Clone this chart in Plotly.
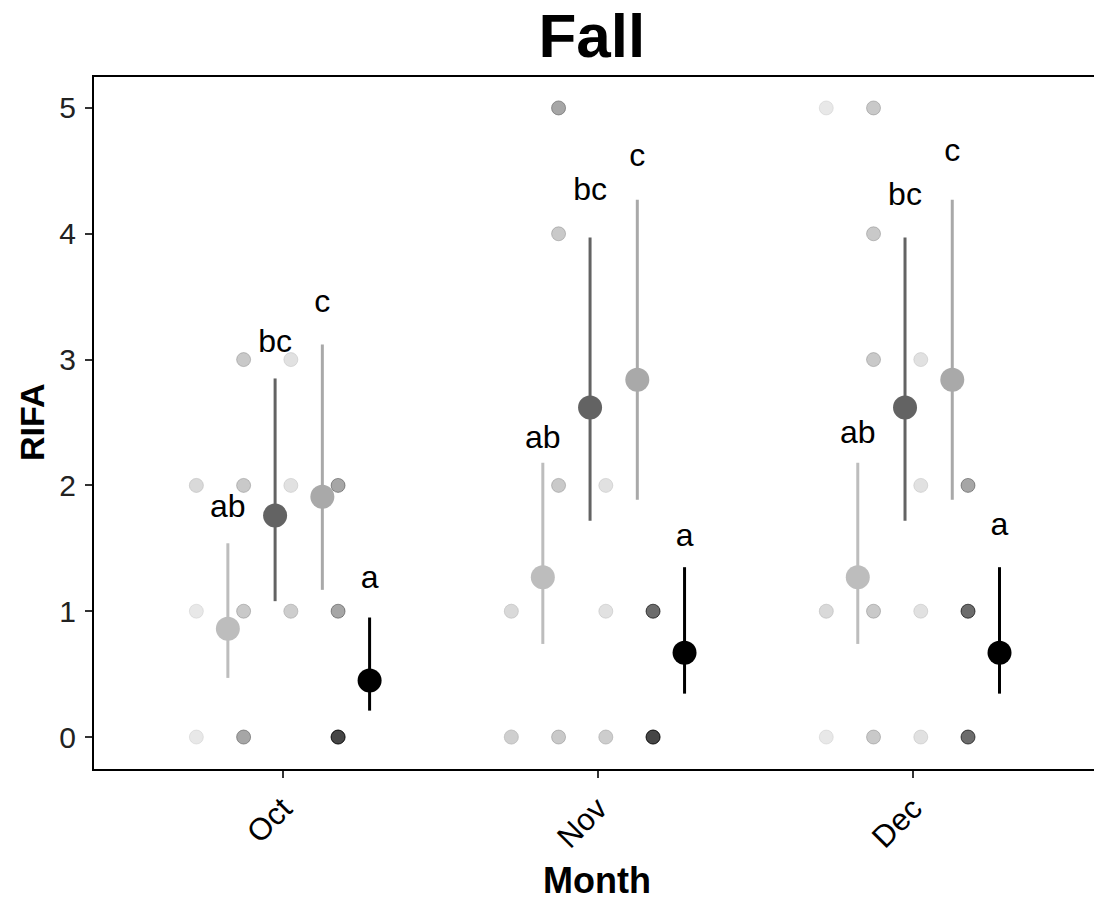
import plotly.graph_objects as go

# ---------------- data ----------------
months = ["Oct", "Nov", "Dec"]
groups = ["Group 1", "Group 2", "Group 3", "Group 4"]
group_colors = ["#bdbdbd", "#636363", "#a9a9a9", "#000000"]
letters = ["ab", "bc", "c", "a"]

# estimated means and 95% CI per group, per month (Oct, Nov, Dec)
mean_g1 = [0.86, 1.27, 1.27]
low_g1 = [0.47, 0.74, 0.74]
high_g1 = [1.54, 2.18, 2.18]

mean_g2 = [1.76, 2.62, 2.62]
low_g2 = [1.08, 1.72, 1.72]
high_g2 = [2.85, 3.97, 3.97]

mean_g3 = [1.91, 2.84, 2.84]
low_g3 = [1.17, 1.885, 1.885]
high_g3 = [3.12, 4.27, 4.27]

mean_g4 = [0.45, 0.67, 0.67]
low_g4 = [0.21, 0.345, 0.345]
high_g4 = [0.95, 1.35, 1.35]

# height of the letter labels per group, per month
label_y_g1 = [1.81, 2.36, 2.40]
label_y_g2 = [3.12, 4.33, 4.29]
label_y_g3 = [3.44, 4.60, 4.64]
label_y_g4 = [1.25, 1.585, 1.67]

# raw observations: values and how many times each occurs, per month
raw_g1_vals = [[2, 1, 0], [1, 0], [5, 1, 0]]
raw_g1_n = [[2, 1, 1], [2, 3], [1, 2, 1]]
raw_g2_vals = [[3, 2, 1, 0], [5, 4, 2, 0], [5, 4, 3, 1, 0]]
raw_g2_n = [[1, 1, 1, 2], [2, 1, 1, 1], [1, 1, 1, 1, 1]]
raw_g3_vals = [[3, 2, 1], [2, 1, 0], [3, 2, 1, 0]]
raw_g3_n = [[1, 1, 2], [1, 1, 2], [1, 1, 1, 1]]
raw_g4_vals = [[2, 1, 0], [1, 0], [2, 1, 0]]
raw_g4_n = [[1, 1, 3], [2, 3], [1, 2, 2]]

means = [mean_g1, mean_g2, mean_g3, mean_g4]
lows = [low_g1, low_g2, low_g3, low_g4]
highs = [high_g1, high_g2, high_g3, high_g4]
label_ys = [label_y_g1, label_y_g2, label_y_g3, label_y_g4]
raw_vals = [raw_g1_vals, raw_g2_vals, raw_g3_vals, raw_g4_vals]
raw_ns = [raw_g1_n, raw_g2_n, raw_g3_n, raw_g4_n]

# ---------------- layout constants ----------------
mean_offsets = [-0.175, -0.025, 0.125, 0.275]
raw_shift = -0.10
raw_alpha = 0.35
FONT = "Liberation Sans, Arial, sans-serif"


def rgba(hex_color, a):
    h = hex_color.lstrip("#")
    r, g, b = int(h[0:2], 16), int(h[2:4], 16), int(h[4:6], 16)
    return f"rgba({r},{g},{b},{a})"


fig = go.Figure()
month_pos = [i + 1 for i in range(len(months))]

# raw points (semi-transparent, overlapping duplicates darken)
for gi in range(len(groups)):
    xs, ys = [], []
    for mi, mpos in enumerate(month_pos):
        for v, n in zip(raw_vals[gi][mi], raw_ns[gi][mi]):
            for _ in range(n):
                xs.append(mpos + mean_offsets[gi] + raw_shift)
                ys.append(v)
    fig.add_trace(go.Scatter(
        x=xs, y=ys, mode="markers", showlegend=False, hoverinfo="skip",
        marker=dict(size=14, color=rgba(group_colors[gi], raw_alpha),
                    line=dict(width=1, color=rgba(group_colors[gi], raw_alpha))),
    ))

# means with CI
for gi in range(len(groups)):
    xs = [m + mean_offsets[gi] for m in month_pos]
    fig.add_trace(go.Scatter(
        x=xs, y=means[gi], mode="markers", name=groups[gi], showlegend=False,
        marker=dict(size=24, color=group_colors[gi], line=dict(width=0)),
        error_y=dict(type="data", symmetric=False,
                     array=[h - m for h, m in zip(highs[gi], means[gi])],
                     arrayminus=[m - l for m, l in zip(means[gi], lows[gi])],
                     color=group_colors[gi], thickness=3, width=0),
    ))
    fig.add_trace(go.Scatter(
        x=xs, y=label_ys[gi], mode="text", text=[letters[gi]] * len(xs),
        textposition="middle center", showlegend=False, hoverinfo="skip",
        textfont=dict(family=FONT, size=32, color="#000000"),
    ))

pw = 1094 - 94
ph = 900 - 77 - 131

fig.update_layout(
    width=1094, height=900,
    margin=dict(l=94, r=0, t=77, b=131),
    paper_bgcolor="white", plot_bgcolor="white",
    title=dict(text="<b>Fall</b>", x=0.541, xanchor="center", y=1 - 35 / 900,
               yanchor="middle", yref="container",
               font=dict(family=FONT, size=62, color="#000000")),
    xaxis=dict(range=[0.4, 3.575], tickvals=month_pos, ticktext=months,
               tickangle=-45, ticks="outside", ticklen=7, tickwidth=1.5, tickcolor="#333333",
               showline=True, linewidth=2, linecolor="#000000", mirror=True,
               showgrid=False, zeroline=False,
               tickfont=dict(family=FONT, size=31, color="#000000")),
    yaxis=dict(range=[-0.254, 5.246], tickvals=[0, 1, 2, 3, 4, 5],
               ticks="outside", ticklen=7, tickwidth=1.5, tickcolor="#333333",
               ticklabelstandoff=3,
               showline=True, linewidth=2, linecolor="#000000",
               showgrid=False, zeroline=False,
               tickfont=dict(family=FONT, size=30, color="#222222")),
    annotations=[
        dict(text="<b>Month</b>", x=(597 - 94) / pw, y=(769 - 880) / ph,
             xref="paper", yref="paper", xanchor="center", yanchor="middle",
             showarrow=False, font=dict(family=FONT, size=36, color="#000000")),
        dict(text="<b>RIFA</b>", textangle=-90, x=(32 - 94) / pw, y=(769 - 423) / ph,
             xref="paper", yref="paper", xanchor="center", yanchor="middle",
             showarrow=False, font=dict(family=FONT, size=34, color="#000000")),
    ],
)

fig.write_html("out.html", config={"displayModeBar": False},
               post_script="document.body.style.margin='0';document.body.style.overflow='hidden';")
